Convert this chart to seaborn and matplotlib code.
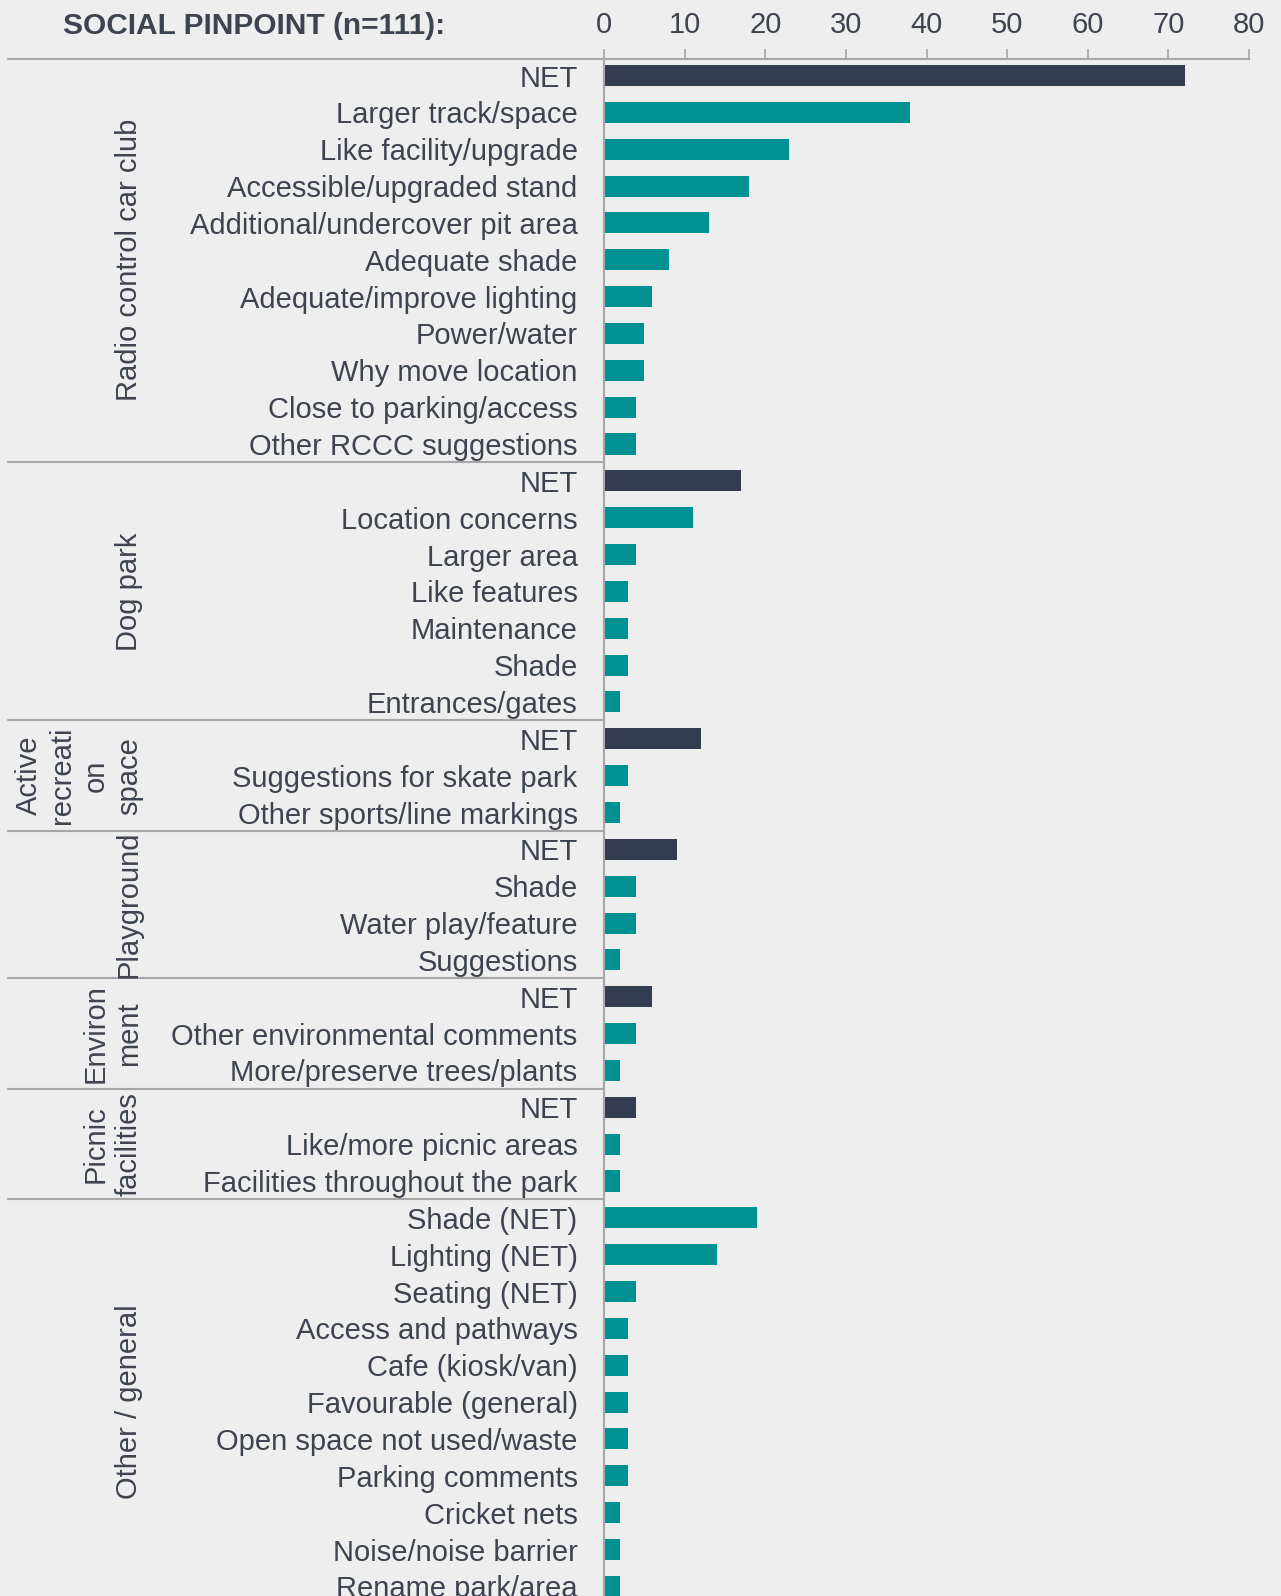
import numpy as np
import pandas as pd
import matplotlib
matplotlib.use('Agg')
import matplotlib.pyplot as plt
import matplotlib.transforms as mtransforms
from matplotlib.lines import Line2D
import seaborn as sns

# groups and their items (first item of each group is the NET row, except "Other / general")
group_names = ['Radio control car club', 'Dog park', 'Active\nrecreati\non\nspace',
               'Playground', 'Environ\nment', 'Picnic\nfacilities', 'Other / general']

rccc_labels = ['NET', 'Larger track/space', 'Like facility/upgrade', 'Accessible/upgraded stand',
               'Additional/undercover pit area', 'Adequate shade', 'Adequate/improve lighting',
               'Power/water', 'Why move location', 'Close to parking/access', 'Other RCCC suggestions']
rccc_values = [72, 38, 23, 18, 13, 8, 6, 5, 5, 4, 4]

dog_labels = ['NET', 'Location concerns', 'Larger area', 'Like features', 'Maintenance',
              'Shade', 'Entrances/gates']
dog_values = [17, 11, 4, 3, 3, 3, 2]

active_labels = ['NET', 'Suggestions for skate park', 'Other sports/line markings']
active_values = [12, 3, 2]

play_labels = ['NET', 'Shade', 'Water play/feature', 'Suggestions']
play_values = [9, 4, 4, 2]

env_labels = ['NET', 'Other environmental comments', 'More/preserve trees/plants']
env_values = [6, 4, 2]

picnic_labels = ['NET', 'Like/more picnic areas', 'Facilities throughout the park']
picnic_values = [4, 2, 2]

other_labels = ['Shade (NET)', 'Lighting (NET)', 'Seating (NET)', 'Access and pathways',
                'Cafe (kiosk/van)', 'Favourable (general)', 'Open space not used/waste',
                'Parking comments', 'Cricket nets', 'Noise/noise barrier', 'Rename park/area']
other_values = [19, 14, 4, 3, 3, 3, 3, 3, 2, 2, 2]

group_labels = [rccc_labels, dog_labels, active_labels, play_labels, env_labels, picnic_labels, other_labels]
group_values = [rccc_values, dog_values, active_values, play_values, env_values, picnic_values, other_values]

rows = []
for g, (labs, vals) in enumerate(zip(group_labels, group_values)):
    for lab, v in zip(labs, vals):
        rows.append({'group': g, 'label': lab, 'value': v,
                     'kind': 'net' if lab == 'NET' else 'item'})
df = pd.DataFrame(rows)
df['key'] = [f'{i:02d}' for i in range(len(df))]

teal = '#009193'
dark = '#333d4f'
text_col = '#3d4450'
line_col = '#a6a6a6'
bg = '#eeeeee'

sns.set_theme(style='white')
plt.rcParams['font.family'] = ['Liberation Sans', 'DejaVu Sans']

W, H = 1281, 1596
fig = plt.figure(figsize=(W / 100, H / 100), dpi=100, facecolor=bg)

# axes geometry in pixels
x0_px, x80_px = 604, 1249
top_px = 58.7
row0_px, row_step = 75.5, 36.85
y_top = -(row0_px - top_px) / row_step
y_bot = 41.7
ax_h = (y_bot - y_top) * row_step
ax = fig.add_axes([x0_px / W, 1 - (top_px + ax_h) / H, (x80_px - x0_px) / W, ax_h / H])
ax.set_facecolor(bg)

sns.barplot(data=df, x='value', y='key', hue='kind', palette={'net': dark, 'item': teal},
            dodge=False, width=0.57, legend=False, linewidth=0, saturation=1, ax=ax)

ax.set_xlim(0, 80)
ax.set_ylim(y_bot, y_top)
ax.set_yticks(range(len(df)))
ax.set_yticklabels(df['label'])
ax.set_xlabel('')
ax.set_ylabel('')
ax.xaxis.tick_top()
ax.set_xticks(range(0, 81, 10))
ax.tick_params(axis='x', direction='out', length=7.2, width=1.2, color=line_col,
               labelsize=21, labelcolor=text_col, pad=7, top=True, bottom=False)
ax.tick_params(axis='y', length=0, pad=19, labelsize=21, labelcolor=text_col)

for s in ['right', 'bottom']:
    ax.spines[s].set_visible(False)
for s in ['top', 'left']:
    ax.spines[s].set_color(line_col)
    ax.spines[s].set_linewidth(1.5)

# left extension of top rule
fig.add_artist(Line2D([8 / W, x0_px / W], [1 - top_px / H, 1 - top_px / H],
                      color=line_col, lw=1.5))

# group separators and group labels
blend = mtransforms.blended_transform_factory(fig.transFigure, ax.transData)
start = 0
for g, labs in enumerate(group_labels):
    end = start + len(labs) - 1
    if g > 0:
        ax.add_line(Line2D([8 / W, x0_px / W], [start - 0.5, start - 0.5], transform=blend,
                           color=line_col, lw=1.5, clip_on=False))
    ax.text(143 / W, (start + end) / 2, group_names[g], transform=blend, rotation=90,
            ha='right', va='center', multialignment='center', fontsize=21,
            color=text_col, linespacing=1.25)
    start = end + 1

fig.text(63 / W, 1 - 26 / H, 'SOCIAL PINPOINT (n=111):', ha='left', va='center',
         fontsize=21.5, fontweight='bold', color=text_col)

fig.savefig('out.png', dpi=100, facecolor=bg)
